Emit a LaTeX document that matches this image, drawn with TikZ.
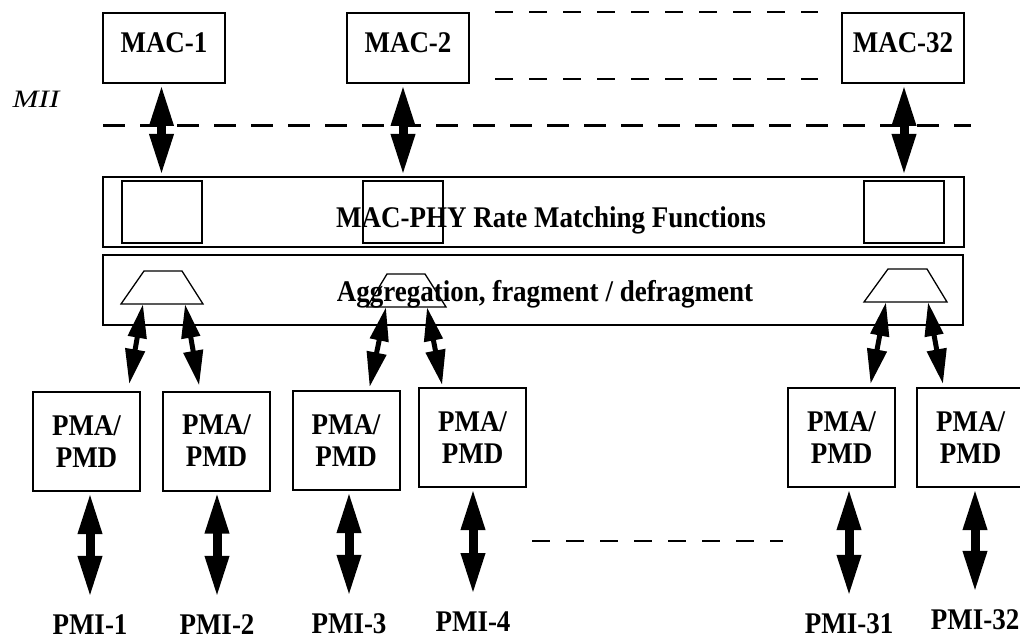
\documentclass[tikz,border=0pt]{standalone}
\usepackage{fontspec}
\setmainfont{Liberation Serif}[FakeStretch=0.9]
\newfontfamily\miifont{Liberation Serif}[FakeStretch=1.25]
\usetikzlibrary{arrows.meta}

\begin{document}
\begin{tikzpicture}[
            x=1pt, y=-1pt,
            box/.style={draw, line width=2pt, inner sep=0pt, font=\fontsize{30}{32}\selectfont\bfseries},
            mac/.style={box, minimum width=122pt, minimum height=70pt, text depth=10pt},
            pma/.style={box, minimum width=107pt, minimum height=99pt, align=center},
            layer/.style={draw, line width=2pt, minimum width=861pt, minimum height=70pt},
            inbox/.style={draw, line width=2pt, minimum width=80pt, minimum height=62pt},
            lbl/.style={anchor=base, inner sep=0pt, font=\fontsize{30}{32}\selectfont\bfseries},
            bigarrow/.style={line width=9pt, {Triangle[width=22pt,length=42pt]}-{Triangle[width=22pt,length=42pt]}},
            smallarrow/.style={line width=5pt, {Triangle[width=18pt,length=34pt]}-{Triangle[width=19pt,length=35pt]}},
            trap/.style={line width=1.3pt},
            miiline/.style={line width=3pt, dash pattern=on 22pt off 15pt},
            gapline/.style={line width=2.2pt, dash pattern=on 18pt off 16pt},
        ]
            \useasboundingbox (0,0) rectangle (1020,639);

            % MAC entities
            \node[mac] (mac1) at (164,48) {MAC-1};
            \node[mac] (mac2) at (408,48) {MAC-2};
            \node[mac] (mac32) at (903,48) {MAC-32};
            \draw[gapline] (495,12) -- (818,12);
            \draw[gapline] (495,79) -- (818,79);

            % MII
            \node[anchor=base, inner sep=0pt, font=\fontsize{25}{25}\selectfont\miifont\itshape] (mii) at (36,108) {MII};
            \draw[miiline] (103,126) -- (971,126);

            % rate matching layer
            \node[layer] (rate) at (533.5,212) {};
            \node[lbl] (ratetxt) at (551,228) {MAC-PHY Rate Matching Functions};
            \node[inbox] (in1) at (161.5,212) {};
            \node[inbox] (in2) at (403,212) {};
            \node[inbox] (in32) at (904,212) {};

            \draw[bigarrow] (in1 |- mac1.south) -- (in1 |- rate.north);
            \draw[bigarrow] (in2 |- mac2.south) -- (in2 |- rate.north);
            \draw[bigarrow] (in32 |- mac32.south) -- (in32 |- rate.north);

            % aggregation layer
            \node[layer, minimum width=860pt] (agg) at (533,290) {};
            \node[lbl] (aggtxt) at (545,301) {Aggregation, fragment / defragment};
            \draw[trap] (121,304) -- (144,271) -- (182,271) -- (203,304) -- cycle;
            \draw[trap] (367,307) -- (387,274) -- (425,274) -- (446,307) -- cycle;
            \draw[trap] (864,302) -- (888,269) -- (927,269) -- (947,302) -- cycle;
            \coordinate (a1) at (143,304);
            \coordinate (a2) at (185,304);
            \coordinate (a3) at (386,307);
            \coordinate (a4) at (427,307);
            \coordinate (a31) at (886,302);
            \coordinate (a32) at (928,302);

            % PMA/PMD
            \node[pma] (p1) at (86.5,441.5) {PMA/\\PMD};
            \node[pma] (p2) at (216.5,441) {PMA/\\PMD};
            \node[pma] (p3) at (346,440.5) {PMA/\\PMD};
            \node[pma] (p4) at (472.5,437.5) {PMA/\\PMD};
            \node[pma] (p31) at (841.5,437.5) {PMA/\\PMD};
            \node[pma] (p32) at (970.5,437.5) {PMA/\\PMD};

            \draw[smallarrow, shorten >=7pt] (a1) -- ([xshift=41.5pt]p1.north);
            \draw[smallarrow, shorten >=5pt] (a2) -- ([xshift=-16.5pt]p2.north);
            \draw[smallarrow, shorten >=3pt] (a3) -- ([xshift=23pt]p3.north);
            \draw[smallarrow, shorten >=2pt] (a4) -- ([xshift=-30pt]p4.north);
            \draw[smallarrow, shorten >=3pt] (a31) -- ([xshift=28.5pt]p31.north);
            \draw[smallarrow, shorten >=3pt] (a32) -- ([xshift=-27pt]p32.north);

            % PMI
            \node[lbl] (pmi1) at (90,634) {PMI-1};
            \node[lbl] (pmi2) at (217,634) {PMI-2};
            \node[lbl] (pmi3) at (349,633) {PMI-3};
            \node[lbl] (pmi4) at (473,631) {PMI-4};
            \node[lbl] (pmi31) at (849,633) {PMI-31};
            \node[lbl] (pmi32) at (975,629) {PMI-32};

            \foreach \n in {1,2,3,4,31,32} {
                \draw[bigarrow, shorten >=16pt] (pmi\n |- p\n.south) -- (pmi\n.north);
            }
            \draw[gapline] (532,541) -- (783,541);
        \end{tikzpicture}
\end{document}
